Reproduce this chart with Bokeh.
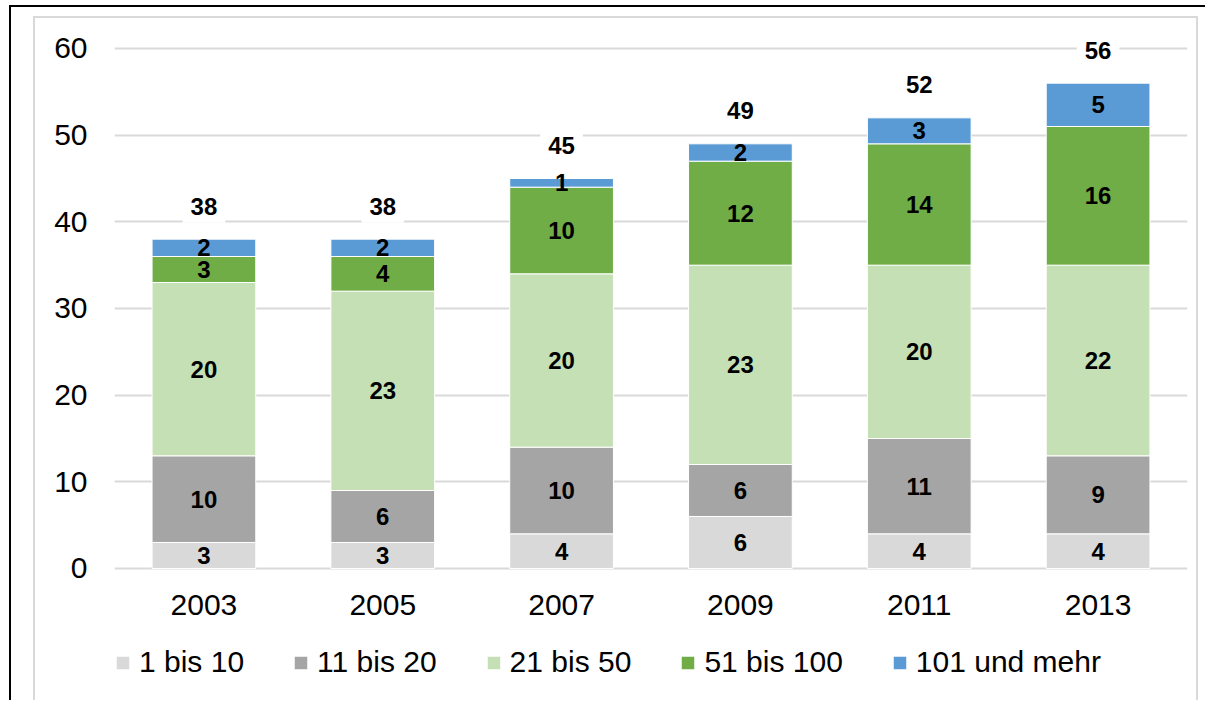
from bokeh.plotting import figure
from bokeh.models import (ColumnDataSource, LabelSet, Label, Legend, LegendItem,
                          FactorRange, Range1d, InlineStyleSheet)
from bokeh.core.properties import value
from bokeh.embed import file_html
from bokeh.resources import INLINE

years = ["2003", "2005", "2007", "2009", "2011", "2013"]
s_1_10 = [3, 3, 4, 6, 4, 4]
s_11_20 = [10, 6, 10, 6, 11, 9]
s_21_50 = [20, 23, 20, 23, 20, 22]
s_51_100 = [3, 4, 10, 12, 14, 16]
s_101 = [2, 2, 1, 2, 3, 5]
series_names = ["1 bis 10", "11 bis 20", "21 bis 50", "51 bis 100", "101 und mehr"]
colors = ["#d9d9d9", "#a5a5a5", "#c5e0b4", "#70ad47", "#5b9bd5"]
y_ticks = [0, 10, 20, 30, 40, 50, 60]

series = [s_1_10, s_11_20, s_21_50, s_51_100, s_101]
keys = ["s1", "s2", "s3", "s4", "s5"]
data = {"years": years}
for k, s in zip(keys, series):
    data[k] = s
source = ColumnDataSource(data)

FONT = "Liberation Sans"

css = InlineStyleSheet(css="""
:host { position: relative; overflow: hidden !important; height: 700px !important; }
:host::before {
  content: ""; position: absolute; left: 9px; top: 5px; width: 1220px; height: 720px;
  border-left: 2px solid #000; border-top: 2px solid #000; pointer-events: none; z-index: 20;
}
:host::after {
  content: ""; position: absolute; left: 33px; top: 16px; width: 1161px; height: 720px;
  border-left: 2px solid #d9d9d9; border-top: 2px solid #d9d9d9; border-right: 2px solid #d9d9d9;
  pointer-events: none; z-index: 20;
}
""")

# frame extends below zero so the legend sits inside it; x axis is pinned at y=0
p = figure(x_range=FactorRange(*years), y_range=Range1d(-14.08, 64.5),
           frame_width=1073, frame_height=681,
           output_backend="svg", toolbar_location=None,
           min_border_left=114, min_border_right=18, min_border_top=9, min_border_bottom=0)
p.stylesheets = [css]
p.outline_line_color = None
p.background_fill_color = "white"
p.border_fill_color = "white"

renderers = p.vbar_stack(keys, x="years", width=0.58, color=colors, source=source,
                         line_color="white", line_width=1)

# Axes
p.xaxis.fixed_location = 0
p.xaxis.axis_line_color = None
p.xaxis.major_tick_line_color = None
p.xaxis.minor_tick_line_color = None
p.xaxis.major_tick_out = 0
p.xaxis.major_label_standoff = 27
p.xaxis.major_label_text_font = FONT
p.xaxis.major_label_text_font_size = "30px"
p.xaxis.major_label_text_color = "black"

p.yaxis.ticker = y_ticks
p.yaxis.axis_line_color = None
p.yaxis.major_tick_line_color = None
p.yaxis.minor_tick_line_color = None
p.yaxis.major_tick_out = 0
p.yaxis.major_label_standoff = 27
p.yaxis.major_label_text_font = FONT
p.yaxis.major_label_text_font_size = "30px"
p.yaxis.major_label_text_color = "black"

p.xgrid.grid_line_color = None
p.ygrid.grid_line_color = "#d9d9d9"
p.ygrid.grid_line_width = 2

# Segment labels
for i, k in enumerate(keys):
    mids = []
    txt = []
    for j in range(len(years)):
        base = sum(series[m][j] for m in range(i))
        mids.append(base + series[i][j] / 2)
        txt.append(str(series[i][j]))
    src = ColumnDataSource({"x": years, "y": mids, "t": txt})
    p.add_layout(LabelSet(x="x", y="y", text="t", source=src, text_align="center",
                          text_baseline="middle", text_font=value(FONT),
                          text_font_size=value("24px"), text_font_style=value("bold"),
                          text_color="black"))

# Totals (categorical synthetic coordinate: category index + 0.5)
totals = [sum(s[j] for s in series) for j in range(len(years))]
for j, t in enumerate(totals):
    p.add_layout(Label(x=j + 0.5, y=t, text=str(t), y_offset=33,
                       text_align="center", text_baseline="middle", text_font=FONT,
                       text_font_size="24px", text_font_style="bold", text_color="black",
                       background_fill_color="white", padding=8))

# Legend (inside the frame, below the axis labels)
items = [LegendItem(label=n, renderers=[r]) for n, r in zip(series_names, renderers)]
legend = Legend(items=items, orientation="horizontal", location=(0, 11),
                label_text_font=FONT, label_text_font_size="30px", label_text_color="black",
                glyph_width=17, glyph_height=17, label_standoff=8, spacing=48,
                padding=2, margin=0, border_line_color=None, background_fill_alpha=0)
p.add_layout(legend, "center")

open("out.html", "w").write(file_html(p, INLINE))
